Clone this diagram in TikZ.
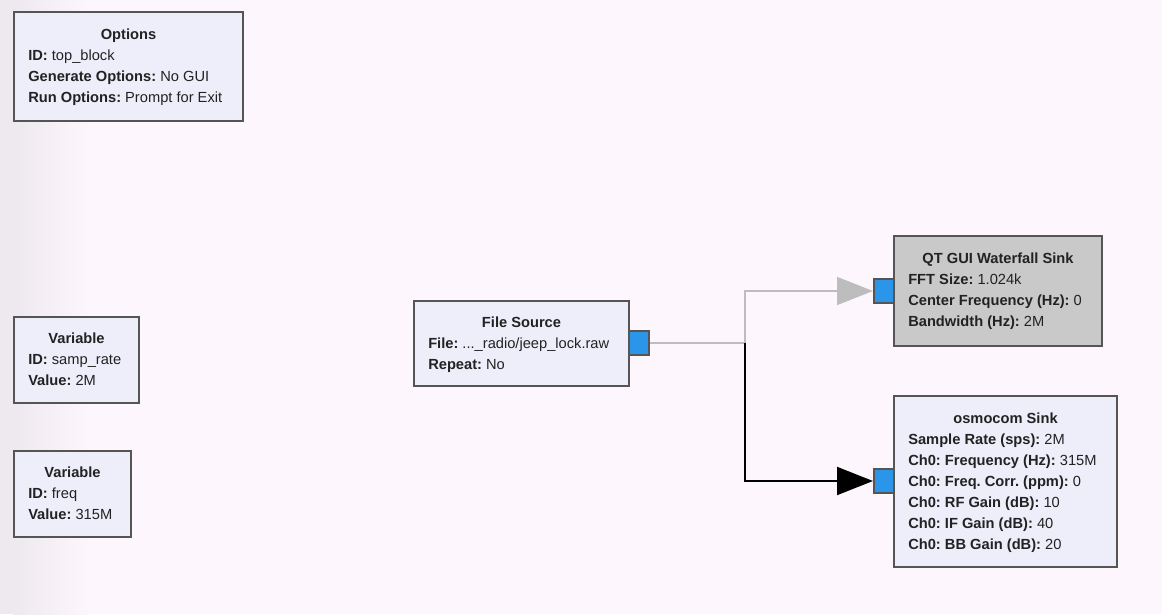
\documentclass[tikz,border=0pt]{standalone}
\usepackage{fontspec}
\setmainfont{Liberation Sans}
\usetikzlibrary{arrows.meta,fit}
\definecolor{bg}{HTML}{FDF7FD}
\definecolor{bgl}{HTML}{EEE9EE}
\definecolor{blk}{HTML}{EEEEFB}
\definecolor{gblk}{HTML}{C9C9C9}
\definecolor{brd}{HTML}{555555}
\definecolor{portc}{HTML}{2B95EA}
\definecolor{tx}{HTML}{222222}
\definecolor{gline}{HTML}{BDBDBD}
\frenchspacing
\begin{document}
\begin{tikzpicture}[x=0.75pt,y=-0.75pt,
  block/.style={draw=brd,line width=1.5pt,fill=blk,inner sep=0pt},
  gblock/.style={block,fill=gblk},
  portbox/.style={draw=brd,line width=1.5pt,fill=portc,inner sep=0pt},
  ttl/.style={anchor=base,inner sep=0pt,font=\fontsize{11}{13}\selectfont\bfseries\frenchspacing,text=tx},
  lbl/.style={anchor=base west,inner sep=0pt,font=\fontsize{11}{13}\selectfont\frenchspacing,text=tx},
  gconn/.style={draw=gline,line width=1.1pt,-{Triangle[length=27pt,width=21pt,fill=gline]}},
  bconn/.style={draw=black,line width=1.5pt,-{Triangle[length=27pt,width=21pt,fill=black]}},
  gseg/.style={draw=gline,line width=1.1pt}]
\useasboundingbox (0,0) rectangle (1162,614);
\fill[bg] (0,0) rectangle (1162,614);
\fill[bgl] (0,0) rectangle (14,614);
\shade[left color=bgl,right color=bg] (14,0) rectangle (90,614);

% Options
\node[block,fit={(14,12)(243,121)}] (opt) {};
\node[ttl] (optt) at (128.5,39) {Options};
\node[lbl] (opt1) at (28,60.5) {\textbf{ID:} top\_block};
\node[lbl] (opt2) at (28,81.5) {\textbf{Generate Options:} No GUI};
\node[lbl] (opt3) at (28,102.5) {\textbf{Run Options:} Prompt for Exit};

% Variable samp_rate
\node[block,fit={(14,317)(139,403)}] (var1) {};
\node[ttl] (var1t) at (76.5,343) {Variable};
\node[lbl] (var11) at (28,364.5) {\textbf{ID:} samp\_rate};
\node[lbl] (var12) at (28,385.5) {\textbf{Value:} 2M};

% Variable freq
\node[block,fit={(14,451)(131,537)}] (var2) {};
\node[ttl] (var2t) at (72.5,477) {Variable};
\node[lbl] (var21) at (28,498.5) {\textbf{ID:} freq};
\node[lbl] (var22) at (28,519.5) {\textbf{Value:} 315M};

% File Source
\node[portbox,fit={(629,331)(649,355)}] (fsport) {};
\node[block,fit={(414,301)(629,386)}] (fs) {};
\node[ttl] (fst) at (521.5,327) {File Source};
\node[lbl] (fs1) at (428,348.5) {\textbf{File:} ...\_radio/jeep\_lock.raw};
\node[lbl] (fs2) at (428,369.5) {\textbf{Repeat:} No};

% QT GUI Waterfall Sink
\node[portbox,fit={(874,279)(894,303)}] (qtport) {};
\node[gblock,fit={(894,236)(1102,346)}] (qt) {};
\node[ttl] (qtt) at (998,263) {QT GUI Waterfall Sink};
\node[lbl] (qt1) at (908,284.5) {\textbf{FFT Size:} 1.024k};
\node[lbl] (qt2) at (908,305.5) {\textbf{Center Frequency (Hz):} 0};
\node[lbl] (qt3) at (908,326.5) {\textbf{Bandwidth (Hz):} 2M};

% osmocom Sink
\node[portbox,fit={(874,469)(894,493)}] (osport) {};
\node[block,fit={(894,396)(1117,567)}] (os) {};
\node[ttl] (ost) at (1005.5,423) {osmocom Sink};
\node[lbl] (os1) at (908,444.5) {\textbf{Sample Rate (sps):} 2M};
\node[lbl] (os2) at (908,465.5) {\textbf{Ch0: Frequency (Hz):} 315M};
\node[lbl] (os3) at (908,486.5) {\textbf{Ch0: Freq. Corr. (ppm):} 0};
\node[lbl] (os4) at (908,507.5) {\textbf{Ch0: RF Gain (dB):} 10};
\node[lbl] (os5) at (908,528.5) {\textbf{Ch0: IF Gain (dB):} 40};
\node[lbl] (os6) at (908,549.5) {\textbf{Ch0: BB Gain (dB):} 20};

% connections
\coordinate (j) at (745,343);
\draw[gseg] (fsport.east) -- (j);
\draw[gconn] (j) |- (qtport.west);
\draw[bconn] (j) |- (osport.west);
\end{tikzpicture}
\end{document}
